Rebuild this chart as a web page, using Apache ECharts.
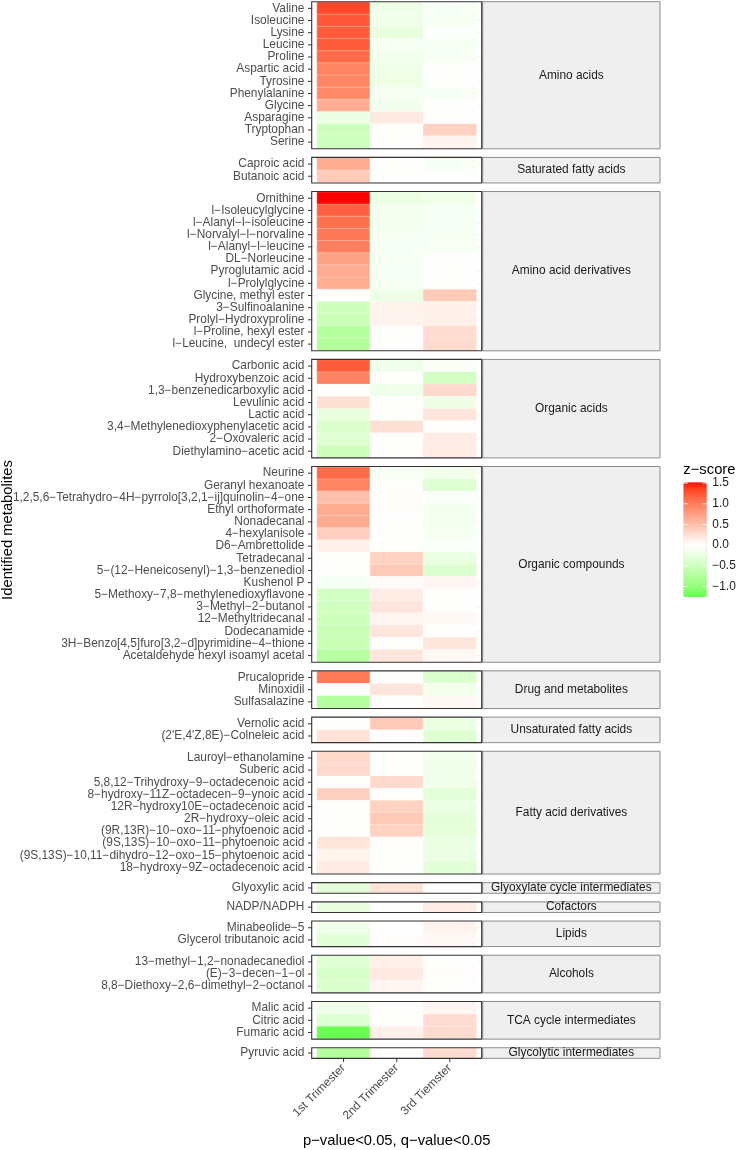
<!DOCTYPE html>
<html><head><meta charset="utf-8">
<script src="https://cdn.jsdelivr.net/npm/echarts@6/dist/echarts.min.js"></script>
<style>html,body{margin:0;padding:0;background:#fff}#c{width:737px;height:1150px}</style>
</head><body><div id="c"></div>
<script>
// ---------------- DATA ----------------
const trimesters = ['1st Trimester', '2nd Trimester', '3rd Tiemster'];
const facetNames = ['Amino acids', 'Saturated fatty acids', 'Amino acid derivatives', 'Organic acids',
  'Organic compounds', 'Drug and metabolites', 'Unsaturated fatty acids', 'Fatty acid derivatives',
  'Glyoxylate cycle intermediates', 'Cofactors', 'Lipids', 'Alcohols', 'TCA cycle intermediates',
  'Glycolytic intermediates'];

const aminoAcids = ['Valine', 'Isoleucine', 'Lysine', 'Leucine', 'Proline', 'Aspartic acid', 'Tyrosine',
  'Phenylalanine', 'Glycine', 'Asparagine', 'Tryptophan', 'Serine'];
const aminoAcidsZ = [[1.32, -0.18, -0.08], [1.24, -0.17, -0.1], [1.22, -0.25, -0.02], [1.22, -0.1, -0.1],
  [1.12, -0.14, -0.08], [0.95, -0.17, 0.0], [0.93, -0.2, 0.0], [0.9, -0.1, -0.08], [0.64, -0.13, 0.0],
  [-0.2, 0.17, 0.0], [-0.5, 0.0, 0.36], [-0.52, 0.0, 0.1]];

const saturatedFA = ['Caproic acid', 'Butanoic acid'];
const saturatedFAZ = [[0.66, 0.0, -0.08], [0.42, 0.0, -0.03]];

const aminoAcidDerivs = ['Ornithine', 'l-Isoleucylglycine', 'l-Alanyl-l-isoleucine', 'l-Norvalyl-l-norvaline',
  'l-Alanyl-l-leucine', 'DL-Norleucine', 'Pyroglutamic acid', 'l-Prolylglycine', 'Glycine, methyl ester',
  '3-Sulfinoalanine', 'Prolyl-Hydroxyproline', 'l-Proline, hexyl ester', 'l-Leucine,  undecyl ester'];
const aminoAcidDerivsZ = [[1.52, -0.22, -0.17], [1.18, -0.13, -0.1], [1.08, -0.12, -0.1], [1.03, -0.1, -0.1],
  [0.98, -0.1, -0.08], [0.72, -0.1, 0.0], [0.66, -0.1, 0.0], [0.64, -0.1, 0.0], [0.0, -0.2, 0.42],
  [-0.5, 0.1, 0.12], [-0.55, 0.1, 0.12], [-0.72, 0.0, 0.28], [-0.75, 0.0, 0.28]];

const organicAcids = ['Carbonic acid', 'Hydroxybenzoic acid', '1,3-benzenedicarboxylic acid', 'Levulinic acid',
  'Lactic acid', '3,4-Methylenedioxyphenylacetic acid', '2-Oxovaleric acid', 'Diethylamino-acetic acid'];
const organicAcidsZ = [[1.22, -0.17, -0.06], [0.95, 0.0, -0.45], [0.0, -0.17, 0.3], [0.25, 0.0, -0.18],
  [-0.25, 0.0, 0.2], [-0.38, 0.25, 0.0], [-0.35, 0.0, 0.15], [-0.5, 0.0, 0.15]];

const organicCompounds = ['Neurine', 'Geranyl hexanoate', '1,2,5,6-Tetrahydro-4H-pyrrolo[3,2,1-ij]quinolin-4-one',
  'Ethyl orthoformate', 'Nonadecanal', '4-hexylanisole', 'D6-Ambrettolide', 'Tetradecanal',
  '5-(12-Heneicosenyl)-1,3-benzenediol', 'Kushenol P', '5-Methoxy-7,8-methylenedioxyflavone',
  '3-Methyl-2-butanol', '12-Methyltridecanal', 'Dodecanamide', '3H-Benzo[4,5]furo[3,2-d]pyrimidine-4-thione',
  'Acetaldehyde hexyl isoamyl acetal'];
const organicCompoundsZ = [[1.12, -0.08, -0.15], [0.95, 0.0, -0.35], [0.5, 0.02, -0.05], [0.66, 0.02, -0.12],
  [0.66, 0.0, -0.12], [0.38, 0.0, -0.1], [0.12, 0.0, -0.05], [0.0, 0.36, -0.22], [0.0, 0.42, -0.36],
  [-0.1, 0.03, 0.08], [-0.45, 0.15, 0.0], [-0.48, 0.2, 0.0], [-0.5, 0.08, 0.05], [-0.55, 0.2, 0.0],
  [-0.55, 0.0, 0.2], [-0.72, 0.2, 0.05]];

const drugs = ['Prucalopride', 'Minoxidil', 'Sulfasalazine'];
const drugsZ = [[1.02, 0.0, -0.38], [0.0, 0.2, -0.15], [-0.72, 0.0, 0.06]];

const unsaturatedFA = ['Vernolic acid', "(2'E,4'Z,8E)-Colneleic acid"];
const unsaturatedFAZ = [[0.0, 0.42, -0.22], [0.22, 0.0, -0.35]];

const fattyAcidDerivs = ['Lauroyl-ethanolamine', 'Suberic acid', '5,8,12-Trihydroxy-9-octadecenoic acid',
  '8-hydroxy-11Z-octadecen-9-ynoic acid', '12R-hydroxy10E-octadecenoic acid', '2R-hydroxy-oleic acid',
  '(9R,13R)-10-oxo-11-phytoenoic acid', '(9S,13S)-10-oxo-11-phytoenoic acid',
  '(9S,13S)-10,11-dihydro-12-oxo-15-phytoenoic acid', '18-hydroxy-9Z-octadecenoic acid'];
const fattyAcidDerivsZ = [[0.3, 0.0, -0.15], [0.3, 0.0, -0.17], [0.0, 0.3, -0.17], [0.38, 0.0, -0.3],
  [0.0, 0.36, -0.22], [0.0, 0.42, -0.28], [0.0, 0.36, -0.28], [0.2, 0.0, -0.22], [0.1, 0.0, -0.22],
  [0.16, 0.0, -0.3]];

const glyoxylate = ['Glyoxylic acid'];
const glyoxylateZ = [[-0.3, 0.22, 0.0]];

const cofactors = ['NADP/NADPH'];
const cofactorsZ = [[-0.25, 0.0, 0.15]];

const lipids = ['Minabeolide-5', 'Glycerol tributanoic acid'];
const lipidsZ = [[-0.18, 0.0, 0.1], [-0.3, 0.02, 0.07]];

const alcohols = ['13-methyl-1,2-nonadecanediol', '(E)-3-decen-1-ol', '8,8-Diethoxy-2,6-dimethyl-2-octanol'];
const alcoholsZ = [[-0.35, 0.12, 0.0], [-0.42, 0.18, 0.02], [-0.38, 0.08, 0.0]];

const tca = ['Malic acid', 'Citric acid', 'Fumaric acid'];
const tcaZ = [[-0.17, 0.0, 0.08], [-0.35, 0.0, 0.28], [-1.26, 0.12, 0.28]];

const glycolytic = ['Pyruvic acid'];
const glycolyticZ = [[-0.72, 0.0, 0.28]];

const legendTicks = [1.5, 1.0, 0.5, 0.0, -0.5, -1.0];

const facetRows = [aminoAcids, saturatedFA, aminoAcidDerivs, organicAcids, organicCompounds, drugs,
  unsaturatedFA, fattyAcidDerivs, glyoxylate, cofactors, lipids, alcohols, tca, glycolytic];
const facetZ = [aminoAcidsZ, saturatedFAZ, aminoAcidDerivsZ, organicAcidsZ, organicCompoundsZ, drugsZ,
  unsaturatedFAZ, fattyAcidDerivsZ, glyoxylateZ, cofactorsZ, lipidsZ, alcoholsZ, tcaZ, glycolyticZ];

// ---------------- COLOUR SCALE (gradient2, Lab interpolation) ----------------
function s2l(c) { c /= 255; return c <= 0.04045 ? c / 12.92 : Math.pow((c + 0.055) / 1.055, 2.4); }
function l2s(v) { v = v <= 0.0031308 ? 12.92 * v : 1.055 * Math.pow(v, 1 / 2.4) - 0.055; return Math.max(0, Math.min(255, Math.round(v * 255))); }
function rgb2lab(rgb) {
  const R = s2l(rgb[0]), G = s2l(rgb[1]), B = s2l(rgb[2]);
  let X = (0.4124 * R + 0.3576 * G + 0.1805 * B) / 0.95047;
  let Y = (0.2126 * R + 0.7152 * G + 0.0722 * B);
  let Z = (0.0193 * R + 0.1192 * G + 0.9505 * B) / 1.08883;
  const f = t => t > 0.008856 ? Math.cbrt(t) : 7.787 * t + 16 / 116;
  const fx = f(X), fy = f(Y), fz = f(Z);
  return [116 * fy - 16, 500 * (fx - fy), 200 * (fy - fz)];
}
function lab2rgb(lab) {
  const fy = (lab[0] + 16) / 116, fx = fy + lab[1] / 500, fz = fy - lab[2] / 200;
  const fi = t => t > 0.206893 ? t * t * t : (t - 16 / 116) / 7.787;
  const X = fi(fx) * 0.95047, Y = fi(fy), Z = fi(fz) * 1.08883;
  const R = 3.2406 * X - 1.5372 * Y - 0.4986 * Z;
  const G = -0.9689 * X + 1.8758 * Y + 0.0415 * Z;
  const B = 0.0557 * X - 0.2040 * Y + 1.0570 * Z;
  return 'rgb(' + l2s(R) + ',' + l2s(G) + ',' + l2s(B) + ')';
}
const labWhite = rgb2lab([255, 255, 255]), labRed = rgb2lab([255, 0, 0]), labGreen = rgb2lab([0, 255, 0]);
const allVals = facetZ.flat(2);
const zMin = Math.min(...allVals), zMax = Math.max(...allVals);
const zAbs = Math.max(Math.abs(zMin), Math.abs(zMax));
function colorAt(v) {
  const t = Math.min(1, Math.abs(v) / zAbs);
  const end = v >= 0 ? labRed : labGreen;
  return lab2rgb([0, 1, 2].map(k => labWhite[k] + (end[k] - labWhite[k]) * t));
}
const NSTOP = 90;
const stopColors = [];
for (let i = 0; i < NSTOP; i++) stopColors.push(colorAt(zMin + (zMax - zMin) * i / (NSTOP - 1)));

// ---------------- LAYOUT ----------------
const panelLeft = 311.7, panelW = 170, top0 = 1.7, rowH = 12.16, gap = 8.6, inset = 0.6, singleRowH = 9.4;
const colW = panelW / 3.2;
const stripLeft = 482.7, stripRight = 660;
const FONT = '"Liberation Sans", Arial, Helvetica, sans-serif';
const AXFS = 11.9, TITLEFS = 14.8;
const fmt = s => s.replace(/-/g, '\u2212');

const grids = [], xAxes = [], yAxes = [], series = [], graphics = [];
let y = top0;
facetRows.forEach((rows, i) => {
  const n = rows.length;
  const innerH = n === 1 ? singleRowH : n * rowH;
  const rh = innerH / n;
  const h = innerH + 2 * inset;
  const isLast = i === facetRows.length - 1;
  const innerLeft = panelLeft + 0.1 * colW, innerTop = y + inset;
  grids.push({ left: innerLeft, top: innerTop, width: 3 * colW, height: innerH, containLabel: false, outerBoundsMode: 'none', show: false });
  xAxes.push({
    type: 'category', gridIndex: i, data: trimesters, position: 'bottom',
    axisLine: { show: false }, axisTick: { show: false }, splitLine: { show: false },
    axisLabel: { show: isLast, rotate: 45, margin: 8.5, fontSize: AXFS, color: '#4D4D4D', fontFamily: FONT, interval: 0 }
  });
  yAxes.push({
    type: 'category', gridIndex: i, data: rows, inverse: true,
    axisLine: { show: false }, axisTick: { show: false }, splitLine: { show: false },
    axisLabel: { show: true, interval: 0, margin: 12.6, fontSize: AXFS, color: '#4D4D4D', fontFamily: FONT, formatter: fmt }
  });
  const data = [];
  facetZ[i].forEach((vals, r) => vals.forEach((v, c) => data.push([c, r, v])));
  series.push({
    type: 'heatmap', xAxisIndex: i, yAxisIndex: i, data: data,
    itemStyle: { borderColor: 'rgba(255,255,255,0.55)', borderWidth: 0.5 },
    emphasis: { disabled: true }, progressive: 0, animation: false
  });
  rows.forEach((_, r) => {
    const cy = innerTop + (r + 0.5) * rh;
    graphics.push({ type: 'line', z: 1, silent: true, shape: { x1: panelLeft, y1: cy, x2: innerLeft, y2: cy }, style: { stroke: '#EBEBEB', lineWidth: 0.6 } });
    graphics.push({ type: 'line', z: 1, silent: true, shape: { x1: innerLeft + 3 * colW, y1: cy, x2: panelLeft + panelW, y2: cy }, style: { stroke: '#EBEBEB', lineWidth: 0.6 } });
    graphics.push({ type: 'line', z: 5, silent: true, shape: { x1: panelLeft - 3.7, y1: cy, x2: panelLeft, y2: cy }, style: { stroke: '#333333', lineWidth: 1 } });
  });
  graphics.push({ type: 'rect', z: 6, silent: true, shape: { x: panelLeft, y: y, width: panelW, height: h }, style: { fill: null, stroke: '#333333', lineWidth: 1.1 } });
  graphics.push({ type: 'rect', z: 4, silent: true, shape: { x: stripLeft, y: y, width: stripRight - stripLeft, height: h }, style: { fill: '#EFEFEF', stroke: '#8C8C8C', lineWidth: 1 } });
  graphics.push({ type: 'text', z: 5, silent: true, x: (stripLeft + stripRight) / 2, y: y + h / 2,
    style: { text: facetNames[i], fill: '#1A1A1A', font: AXFS + 'px ' + FONT, textAlign: 'center', textVerticalAlign: 'middle' } });
  if (isLast) {
    for (let c = 0; c < 3; c++) {
      const cx = innerLeft + (c + 0.5) * colW;
      graphics.push({ type: 'line', z: 5, silent: true, shape: { x1: cx, y1: y + h, x2: cx, y2: y + h + 3.7 }, style: { stroke: '#333333', lineWidth: 1 } });
    }
  }
  y += h + gap;
});
const plotBottom = y - gap;

// axis titles
graphics.push({ type: 'text', silent: true, x: (panelLeft * 2 + panelW) / 2, y: 1140.5,
  style: { text: 'p\u2212value<0.05, q\u2212value<0.05', fill: '#000', font: TITLEFS + 'px ' + FONT, textAlign: 'center', textVerticalAlign: 'middle' } });
graphics.push({ type: 'text', silent: true, x: 7.5, y: (top0 + plotBottom) / 2, rotation: Math.PI / 2,
  style: { text: 'Identified metabolites', fill: '#000', font: TITLEFS + 'px ' + FONT, textAlign: 'center', textVerticalAlign: 'middle' } });

// legend
const barLeft = 683.3, barTop = 482.3, barW = 23.5, barH = 115;
graphics.push({ type: 'text', silent: true, x: barLeft, y: barTop - 4.5,
  style: { text: 'z\u2212score', fill: '#000', font: TITLEFS + 'px ' + FONT, textAlign: 'left', textVerticalAlign: 'bottom' } });
legendTicks.forEach(v => {
  const ty = barTop + (zMax - v) / (zMax - zMin) * barH;
  graphics.push({ type: 'text', z: 5, silent: true, x: barLeft + barW + 5.5, y: ty,
    style: { text: (v < 0 ? '\u2212' : '') + Math.abs(v).toFixed(1), fill: '#1A1A1A', font: AXFS + 'px ' + FONT, textAlign: 'left', textVerticalAlign: 'middle' } });
  graphics.push({ type: 'line', z: 5, silent: true, shape: { x1: barLeft, y1: ty, x2: barLeft + 4.7, y2: ty }, style: { stroke: '#FFFFFF', lineWidth: 0.8 } });
  graphics.push({ type: 'line', z: 5, silent: true, shape: { x1: barLeft + barW - 4.7, y1: ty, x2: barLeft + barW, y2: ty }, style: { stroke: '#FFFFFF', lineWidth: 0.8 } });
});

const chart = echarts.init(document.getElementById('c'), null, { renderer: 'canvas' });
chart.setOption({
  animation: false,
  backgroundColor: '#FFFFFF',
  grid: grids, xAxis: xAxes, yAxis: yAxes, series: series,
  visualMap: {
    type: 'continuous', min: zMin, max: zMax, calculable: false, realtime: false,
    seriesIndex: series.map((_, i) => i), orient: 'vertical', left: barLeft, top: barTop,
    itemWidth: barW, itemHeight: barH, padding: 0, text: null, showLabel: false,
    inRange: { color: stopColors }
  },
  graphic: { elements: graphics }
});
</script></body></html>
